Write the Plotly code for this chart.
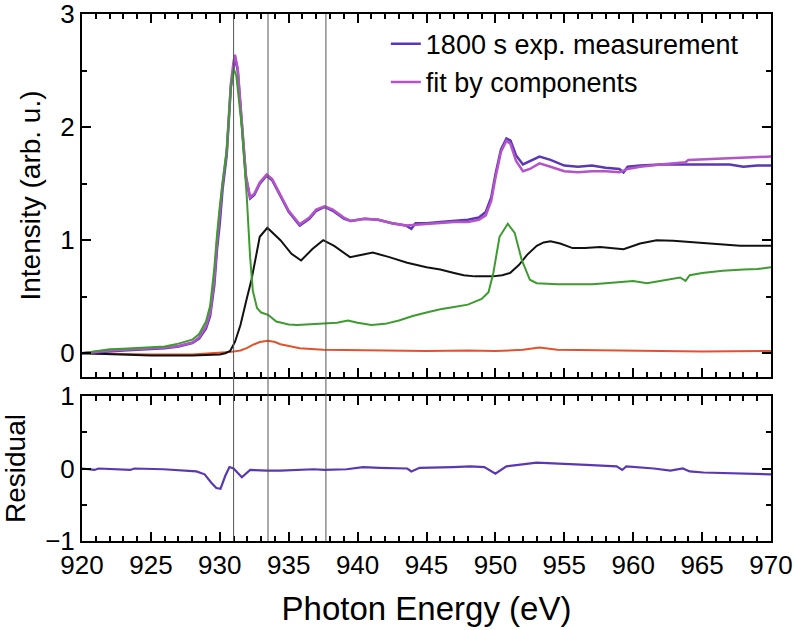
import plotly.graph_objects as go

# ---------------- data ----------------
meas_x = [920.0, 921.0, 922.0, 923.0, 924.0, 925.0, 926.0, 927.0, 928.0, 928.5, 929.0, 929.3, 929.6,
          929.8, 930.0, 930.2, 930.5, 930.8, 931.0, 931.1, 931.3, 931.6, 931.9, 932.2, 932.5, 932.9,
          933.4, 933.8, 934.4, 935.0, 935.8, 936.5, 937.0, 937.6, 938.2, 939.0, 939.5, 940.5, 941.5,
          942.5, 943.5, 943.9, 944.2, 945.0, 946.0, 947.0, 948.0, 948.8, 949.3, 949.7, 950.0, 950.4,
          950.8, 951.1, 951.5, 952.0, 952.5, 953.2, 954.0, 955.0, 956.0, 957.0, 958.0, 959.0, 959.3,
          959.6, 960.5, 962.0, 964.0, 966.0, 967.0, 968.0, 969.0, 970.0]
meas_y = [0.00, 0.01, 0.02, 0.025, 0.03, 0.035, 0.045, 0.06, 0.09, 0.13, 0.22, 0.33, 0.60,
          0.92, 1.15, 1.45, 1.75, 2.35, 2.55, 2.62, 2.50, 2.05, 1.55, 1.37, 1.40, 1.50,
          1.57, 1.53, 1.39, 1.25, 1.13, 1.19, 1.26, 1.295, 1.26, 1.19, 1.17, 1.19, 1.18,
          1.15, 1.13, 1.10, 1.15, 1.15, 1.16, 1.17, 1.18, 1.20, 1.25, 1.38, 1.58, 1.80,
          1.90, 1.88, 1.75, 1.67, 1.70, 1.74, 1.71, 1.66, 1.65, 1.66, 1.64, 1.63, 1.60,
          1.65, 1.66, 1.67, 1.67, 1.67, 1.67, 1.65, 1.66, 1.66]

fit_x = [920.0, 921.0, 922.0, 923.0, 924.0, 925.0, 926.0, 927.0, 928.0, 928.5, 929.0, 929.3, 929.6,
         929.8, 930.0, 930.2, 930.5, 930.8, 931.0, 931.1, 931.3, 931.6, 931.9, 932.2, 932.5, 932.9,
         933.4, 933.8, 934.4, 935.0, 935.8, 936.5, 937.0, 937.6, 938.2, 939.0, 939.5, 940.5, 941.5,
         942.5, 943.5, 944.5, 945.0, 946.0, 947.0, 948.0, 948.8, 949.3, 949.7, 950.0, 950.4,
         950.8, 951.1, 951.5, 952.0, 952.5, 953.2, 954.0, 955.0, 956.0, 957.0, 958.0, 959.0,
         959.6, 960.5, 962.0, 963.5, 963.8, 964.0, 966.0, 968.0, 970.0]
fit_y = [0.00, 0.015, 0.025, 0.03, 0.035, 0.04, 0.05, 0.065, 0.095, 0.14, 0.24, 0.36, 0.65,
         0.98, 1.22, 1.50, 1.78, 2.38, 2.58, 2.64, 2.52, 2.08, 1.57, 1.38, 1.41, 1.51,
         1.58, 1.54, 1.40, 1.26, 1.14, 1.20, 1.27, 1.30, 1.27, 1.20, 1.17, 1.19, 1.18,
         1.15, 1.13, 1.14, 1.14, 1.15, 1.16, 1.16, 1.18, 1.22, 1.35, 1.55, 1.78,
         1.88, 1.85, 1.70, 1.61, 1.63, 1.68, 1.65, 1.61, 1.60, 1.61, 1.61, 1.60,
         1.63, 1.65, 1.67, 1.685, 1.69, 1.71, 1.72, 1.73, 1.74]

green_x = [920.0, 921.0, 922.0, 923.0, 924.0, 925.0, 926.0, 927.0, 928.0, 928.5, 929.0, 929.3, 929.6,
           929.8, 930.0, 930.3, 930.5, 930.8, 931.0, 931.2, 931.6, 931.95, 932.2, 932.4, 932.7, 933.0,
           933.5, 934.1, 935.0, 935.6, 936.5, 937.5, 938.5, 939.3, 940.0, 941.0, 942.0, 943.0, 944.0,
           945.0, 946.0, 947.0, 948.0, 949.0, 949.5, 949.85, 950.3, 950.9, 951.4, 951.9, 952.5, 953.0,
           954.5, 956.0, 957.0, 958.0, 959.0, 960.0, 961.0, 962.0, 963.4, 963.8, 964.1, 965.0, 966.5,
           968.0, 969.0, 970.0]
green_y = [0.00, 0.02, 0.035, 0.04, 0.045, 0.05, 0.06, 0.085, 0.12, 0.17, 0.28, 0.42, 0.75,
           1.05, 1.30, 1.60, 1.80, 2.35, 2.52, 2.45, 2.00, 1.40, 0.85, 0.55, 0.40, 0.36,
           0.34, 0.28, 0.255, 0.25, 0.255, 0.26, 0.27, 0.29, 0.27, 0.25, 0.26, 0.29, 0.33,
           0.36, 0.39, 0.41, 0.43, 0.48, 0.54, 0.71, 1.03, 1.145, 1.065, 0.83, 0.65, 0.62,
           0.61, 0.61, 0.61, 0.62, 0.63, 0.64, 0.62, 0.64, 0.67, 0.64, 0.69, 0.71, 0.73,
           0.74, 0.745, 0.76]

black_x = [920.0, 922.0, 925.0, 928.0, 929.5, 930.0, 930.4, 930.75, 931.1, 931.5, 931.95, 932.3,
           932.9, 933.45, 934.4, 935.2, 935.9, 936.7, 937.5, 938.3, 939.45, 940.2, 941.1, 942.3,
           943.6, 945.0, 946.0, 947.0, 947.7, 948.5, 949.8, 950.5, 951.06, 951.7, 952.3, 953.0,
           953.5, 954.0, 954.7, 955.6, 956.5, 957.6, 958.5, 959.3, 960.5, 961.7, 962.9, 964.0,
           965.3, 966.5, 967.75, 969.0, 970.0]
black_y = [0.00, -0.01, -0.02, -0.02, -0.015, -0.01, 0.00, 0.02, 0.10, 0.25, 0.48, 0.65,
           1.03, 1.11, 1.00, 0.88, 0.82, 0.92, 1.00, 0.95, 0.85, 0.87, 0.89, 0.85,
           0.80, 0.76, 0.74, 0.71, 0.69, 0.68, 0.68, 0.69, 0.71, 0.78, 0.87, 0.95,
           0.98, 0.99, 0.97, 0.93, 0.93, 0.94, 0.93, 0.92, 0.97, 1.00, 0.995, 0.985,
           0.97, 0.96, 0.95, 0.95, 0.95]

orange_x = [920.0, 922.0, 925.0, 928.0, 930.0, 930.7, 931.5, 931.95, 932.5, 932.9, 933.5, 934.0,
            934.4, 935.2, 935.8, 937.5, 940.0, 945.0, 948.0, 950.0, 952.0, 953.2, 954.5, 957.0,
            960.0, 965.0, 970.0]
orange_y = [0.00, -0.005, -0.01, -0.01, 0.00, 0.01, 0.025, 0.045, 0.08, 0.10, 0.11, 0.10,
            0.08, 0.06, 0.045, 0.03, 0.025, 0.02, 0.025, 0.02, 0.03, 0.05, 0.03, 0.025,
            0.02, 0.015, 0.02]

resid_x = [920.0, 920.9, 921.2, 923.5, 923.8, 925.9, 928.3, 928.9, 929.4, 929.75, 930.05, 930.4,
           930.7, 931.0, 931.6, 932.2, 933.45, 934.4, 936.8, 937.6, 939.2, 940.4, 941.6, 943.6,
           943.9, 944.3, 944.5, 946.9, 948.2, 949.2, 950.0, 950.8, 953.0, 956.6, 958.8, 959.2,
           959.5, 961.5, 962.7, 963.6, 964.1, 965.1, 967.5, 969.8, 970.0]
resid_y = [0.00, -0.02, 0.00, -0.02, 0.00, -0.01, -0.04, -0.08, -0.20, -0.27, -0.28, -0.10,
           0.02, 0.00, -0.12, -0.02, -0.03, -0.03, -0.01, -0.02, -0.01, 0.02, 0.01, 0.00,
           -0.04, 0.00, 0.01, 0.02, 0.03, 0.02, -0.07, 0.03, 0.08, 0.05, 0.03, -0.02,
           0.03, 0.00, -0.03, 0.00, -0.04, -0.055, -0.07, -0.08, -0.08]

marker_lines = [931.0, 933.5, 937.7]

# ---------------- figure ----------------
FONT = "Liberation Sans, Arial, sans-serif"
C_MEAS = "#5a38b4"
C_FIT = "#b553c9"
C_GREEN = "#3e9b2f"
C_BLACK = "#111111"
C_ORANGE = "#e1532b"

fig = go.Figure()
fig.add_trace(go.Scatter(x=orange_x, y=orange_y, mode="lines", line=dict(color=C_ORANGE, width=2),
                         showlegend=False, xaxis="x", yaxis="y"))
fig.add_trace(go.Scatter(x=black_x, y=black_y, mode="lines", line=dict(color=C_BLACK, width=2),
                         showlegend=False, xaxis="x", yaxis="y"))
fig.add_trace(go.Scatter(x=meas_x, y=meas_y, mode="lines", line=dict(color=C_MEAS, width=2.5),
                         name="1800 s exp. measurement", xaxis="x", yaxis="y"))
fig.add_trace(go.Scatter(x=fit_x, y=fit_y, mode="lines", line=dict(color=C_FIT, width=2.5),
                         name="fit by components", xaxis="x", yaxis="y"))
fig.add_trace(go.Scatter(x=green_x, y=green_y, mode="lines", line=dict(color=C_GREEN, width=2),
                         showlegend=False, xaxis="x", yaxis="y"))
fig.add_trace(go.Scatter(x=resid_x, y=resid_y, mode="lines", line=dict(color=C_MEAS, width=2.2),
                         showlegend=False, xaxis="x2", yaxis="y2"))

for xv in marker_lines:
    fig.add_shape(type="line", xref="x", yref="paper", x0=xv, x1=xv, y0=0, y1=1,
                  line=dict(color="#555555", width=1), layer="above")

axis_common = dict(showline=True, linecolor="black", linewidth=2, mirror="ticks",
                   ticks="inside", tickcolor="black", tickwidth=2, showgrid=False, zeroline=False,
                   automargin=False, ticklabeloverflow="allow",
                   tickfont=dict(family=FONT, size=26, color="black"))

fig.update_layout(
    width=794, height=630,
    margin=dict(l=82, r=23, t=14, b=89, autoexpand=False),
    paper_bgcolor="white", plot_bgcolor="white",
    font=dict(family=FONT, color="black"),
    xaxis=dict(domain=[0, 1], range=[920, 970], anchor="y", dtick=5, ticklen=9,
               showticklabels=False,
               minor=dict(ticks="inside", dtick=1, ticklen=5, tickcolor="black", tickwidth=2),
               **axis_common),
    yaxis=dict(domain=[0.3112, 1.0], range=[-0.21, 3.0005], anchor="x", dtick=1, ticklen=9,
               minor=dict(ticks="inside", dtick=0.5, ticklen=5, tickcolor="black", tickwidth=2),
               title=dict(text="Intensity (arb. u.)", font=dict(family=FONT, size=28), standoff=12),
               **axis_common),
    xaxis2=dict(domain=[0, 1], range=[920, 970], anchor="y2", matches="x", dtick=5, ticklen=9,
                minor=dict(ticks="inside", dtick=1, ticklen=5, tickcolor="black", tickwidth=2),
                title=dict(text="Photon Energy (eV)", font=dict(family=FONT, size=33), standoff=18),
                **axis_common),
    yaxis2=dict(domain=[0, 0.2751], range=[-1.0, 1.0], anchor="x2", dtick=1, ticklen=9,
                minor=dict(ticks="inside", dtick=0.5, ticklen=5, tickcolor="black", tickwidth=2),
                title=dict(text="Residual", font=dict(family=FONT, size=28), standoff=12),
                **axis_common),
    legend=dict(x=0.441, y=0.989, xanchor="left", yanchor="top", bgcolor="rgba(0,0,0,0)",
                font=dict(family=FONT, size=27, color="black"), tracegroupgap=0, itemwidth=30),
    showlegend=True,
)

fig.write_html("out.html")
